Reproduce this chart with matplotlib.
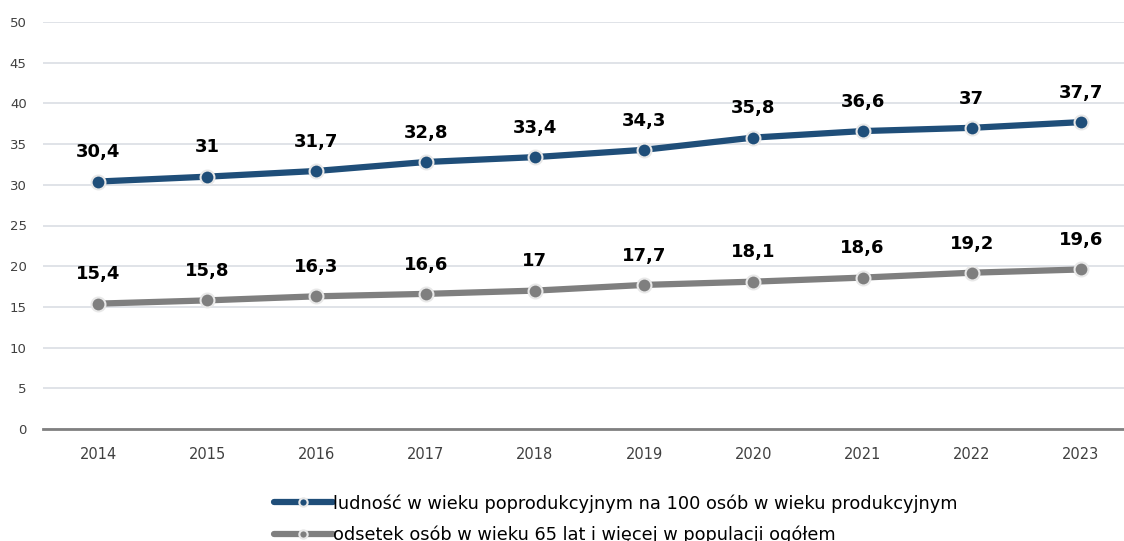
import matplotlib
matplotlib.use('Agg')
import matplotlib.pyplot as plt
import numpy as np

years = ['2014', '2015', '2016', '2017', '2018', '2019', '2020', '2021', '2022', '2023']
ludnosc = [30.4, 31, 31.7, 32.8, 33.4, 34.3, 35.8, 36.6, 37, 37.7]
odsetek = [15.4, 15.8, 16.3, 16.6, 17, 17.7, 18.1, 18.6, 19.2, 19.6]
label_a = 'ludność w wieku poprodukcyjnym na 100 osób w wieku produkcyjnym'
label_b = 'odsetek osób w wieku 65 lat i więcej w populacji ogółem'

plt.rcParams['font.family'] = ['DejaVu Sans']

fig = plt.figure(figsize=(11.24, 5.41), dpi=100)
ax = fig.add_axes([43.4 / 1124, 112 / 541, 1092.2 / 1124, 407 / 541])

x = np.arange(len(years))
series = [(ludnosc, '#1f4e79', label_a), (odsetek, '#7f7f7f', label_b)]
for vals, col, lab in series:
    ax.plot(x, vals, color=col, lw=4.5, marker='o', ms=10, mfc=col,
            mec='#e8e8e8', mew=1.5, label=lab, solid_capstyle='round', zorder=3)
    for xi, v in zip(x, vals):
        txt = ('%g' % v).replace('.', ',')
        ax.annotate(txt, (xi, v), xytext=(0, 21), textcoords='offset points',
                    ha='center', va='center', fontsize=13, fontweight='bold', color='black')

ax.set_xlim(-0.5, 9.5)
ax.set_ylim(0, 50)
ax.set_yticks(range(0, 51, 5))
ax.set_xticks(x)
ax.set_xticklabels(years)
ax.grid(axis='y', color='#dde1e6', lw=1.3)
ax.set_axisbelow(True)
for s in ['top', 'right', 'left']:
    ax.spines[s].set_visible(False)
ax.spines['bottom'].set_color('#808080')
ax.spines['bottom'].set_linewidth(2)
ax.tick_params(axis='x', length=0, labelsize=10.5, colors='#404040', pad=13)
ax.tick_params(axis='y', length=0, labelsize=9.5, colors='#404040', pad=12)

fig.legend(loc='upper center', bbox_to_anchor=(0.548, 0.10), frameon=False,
           fontsize=12.8, handlelength=3.3, handletextpad=0.05, labelspacing=0.75,
           markerscale=0.6, borderaxespad=0)

plt.savefig('out.png', dpi=100)
